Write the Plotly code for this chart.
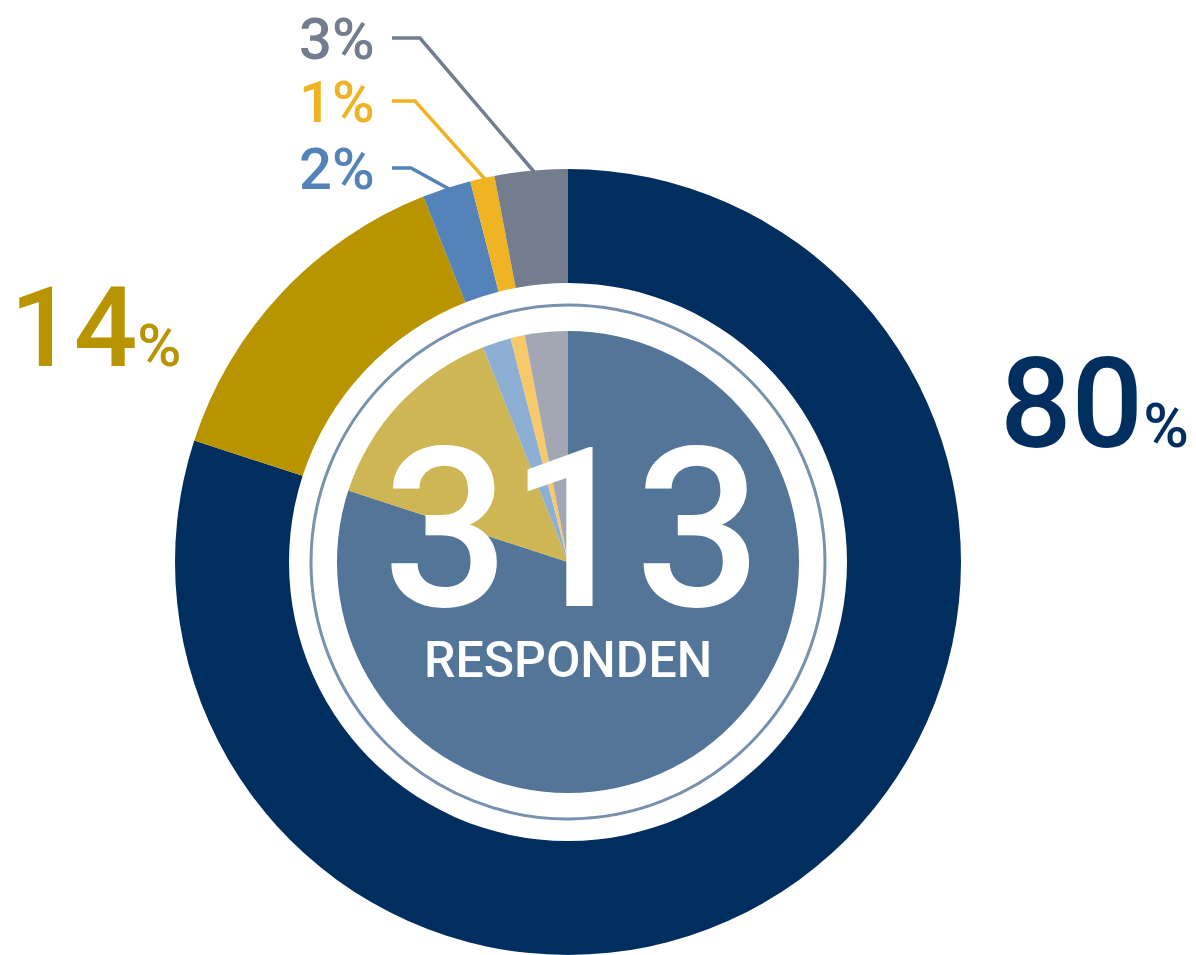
import math
import plotly.graph_objects as go

# ---- data ----
categories = ["A", "B", "C", "D", "E"]
percent_values = [80, 14, 2, 1, 3]
pct_labels = ["80%", "14%", "2%", "1%", "3%"]
total_respondents = 313
center_label = "RESPONDEN"

outer_colors = ["#002f5f", "#b89400", "#5383b8", "#f0b323", "#737d8e"]
inner_colors = ["#537597", "#cfb655", "#8dafd3", "#f6c96b", "#a2a7b3"]

OFF = 8                      # page body margin
FW, FH = 1196 - OFF, 955 - OFF
CX, CY = 568, 562            # page pixel centre
R_OUT, R_IN, R_RING, R_CORE = 393, 279, 257, 231
FONT = "Roboto"


def px_x(x):
    return (x - OFF) / FW


def px_y(y_top):
    return (FH - (y_top - OFF)) / FH


fig = go.Figure()

fig.add_trace(go.Pie(
    labels=categories, values=percent_values, sort=False, direction="clockwise",
    rotation=0, hole=R_IN / R_OUT, textinfo="none", hoverinfo="label+percent",
    marker=dict(colors=outer_colors, line=dict(width=0)),
    domain=dict(x=[px_x(CX - R_OUT), px_x(CX + R_OUT)],
                y=[max(0, px_y(CY + R_OUT)), px_y(CY - R_OUT)]),
    showlegend=False,
))

fig.add_trace(go.Pie(
    labels=categories, values=percent_values, sort=False, direction="clockwise",
    rotation=0, textinfo="none", hoverinfo="label+percent",
    marker=dict(colors=inner_colors, line=dict(width=0)),
    domain=dict(x=[px_x(CX - R_CORE), px_x(CX + R_CORE)],
                y=[px_y(CY + R_CORE), px_y(CY - R_CORE)]),
    showlegend=False,
))

# thin ring between donut and core
fig.add_shape(type="circle", xref="paper", yref="paper",
              x0=px_x(CX - R_RING), x1=px_x(CX + R_RING),
              y0=px_y(CY + R_RING), y1=px_y(CY - R_RING),
              line=dict(color="#7891ad", width=3), fillcolor="rgba(0,0,0,0)")

# big labels
fig.add_annotation(text="80<span style='font-size:62px'>%</span>", xref="paper", yref="paper",
                   x=px_x(1191), y=px_y(404), xanchor="right", yanchor="middle",
                   showarrow=False,
                   font=dict(family=FONT, size=126, color=outer_colors[0], weight=500))
fig.add_annotation(text="14<span style='font-size:60px'>%</span>", xref="paper", yref="paper",
                   x=px_x(184), y=px_y(327), xanchor="right", yanchor="middle",
                   showarrow=False,
                   font=dict(family=FONT, size=112, color=outer_colors[1], weight=500))

# small labels with leader lines
total = sum(percent_values)
cum = 0
mids = []
for v in percent_values:
    mids.append((cum + v / 2) / total)
    cum += v

label_rows = {2: 169, 3: 102, 4: 39}
elbow_x = {2: 411, 3: 415, 4: 420}
for i, ytop in label_rows.items():
    ang = 2 * math.pi * mids[i]
    ex = CX + R_OUT * math.sin(ang)
    ey = CY - R_OUT * math.cos(ang)
    fig.add_shape(type="path", xref="paper", yref="paper",
                  path=f"M {px_x(392)} {px_y(ytop - 1)} L {px_x(elbow_x[i])} {px_y(ytop - 1)} "
                       f"L {px_x(ex + 3)} {px_y(ey + 1)}",
                  line=dict(color=outer_colors[i], width=3.5))
    fig.add_annotation(text=pct_labels[i], xref="paper", yref="paper",
                       x=px_x(377), y=px_y(ytop), xanchor="right", yanchor="middle",
                       showarrow=False, height=60, valign="middle",
                       font=dict(family=FONT, size=58, color=outer_colors[i], weight=500))

# centre text
fig.add_annotation(text=str(total_respondents), xref="paper", yref="paper",
                   x=px_x(CX + 4), y=px_y(530), xanchor="center", yanchor="middle",
                   showarrow=False, height=182, valign="middle",
                   font=dict(family=FONT, size=222, color="white", weight=500))
fig.add_annotation(text=center_label, xref="paper", yref="paper",
                   x=px_x(CX), y=px_y(660), xanchor="center", yanchor="middle",
                   showarrow=False, height=54, valign="middle",
                   font=dict(family=FONT, size=50, color="white", weight=500))

fig.update_layout(width=FW, height=FH, margin=dict(l=0, r=0, t=0, b=0),
                  paper_bgcolor="white", plot_bgcolor="white")

fig.write_html("out.html")
